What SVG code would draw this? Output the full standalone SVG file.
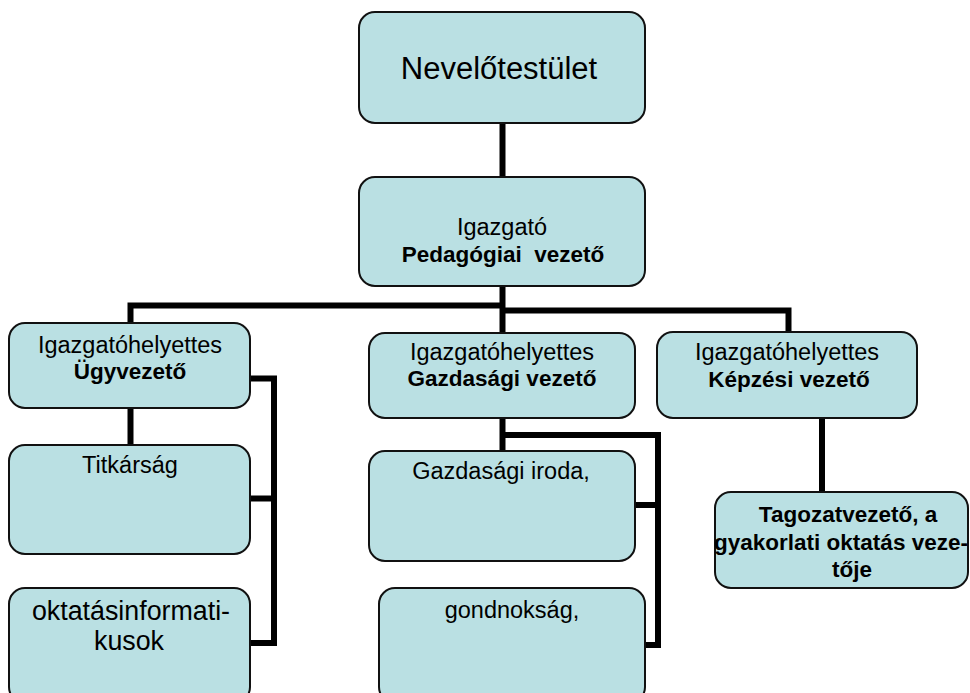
<svg xmlns="http://www.w3.org/2000/svg" width="970" height="693" viewBox="0 0 970 693">
<style>
.box{fill:#bae0e3;stroke:#111;stroke-width:2}
.t{font-family:"Liberation Sans",Arial,sans-serif;font-size:23.5px;fill:#000;text-anchor:middle}
.b{font-weight:bold;font-size:22.5px}
.con{fill:none;stroke:#000;stroke-width:6;stroke-linejoin:miter;stroke-linecap:butt}
</style>
<rect width="970" height="693" fill="#fff"/>
<g id="connectors">
<path class="con" d="M502.5,122 V178"/>
<path class="con" d="M502.5,285 V334"/>
<path class="con" d="M502.5,305.5 H130.5 V324"/>
<path class="con" d="M502.5,310.5 H788.5 V333"/>
<path class="con" d="M130.5,407 V446"/>
<path class="con" d="M249,378.5 H274 V643 H249"/>
<path class="con" d="M249,498.5 H274"/>
<path class="con" d="M502.5,417 V452"/>
<path class="con" d="M502.5,435 H658 V645 H644"/>
<path class="con" d="M634,505 H658"/>
<path class="con" d="M822,417 V493"/>
</g>
<g id="nevelotestulet">
<rect class="box" x="359" y="12" width="286" height="111" rx="16"/>
<text class="t" x="499" y="79" style="font-size:31px">Nevelőtestület</text>
</g>
<g id="igazgato">
<rect class="box" x="359" y="177" width="286" height="109" rx="16"/>
<text class="t" x="502" y="235">Igazgató</text>
<text class="t b" x="503" y="262" xml:space="preserve">Pedagógiai  vezető</text>
</g>
<g id="ugyvezeto">
<rect class="box" x="9" y="323" width="241" height="85" rx="16"/>
<text class="t" x="130" y="353">Igazgatóhelyettes</text>
<text class="t b" x="130" y="379">Ügyvezető</text>
</g>
<g id="titkarsag">
<rect class="box" x="9" y="445" width="241" height="109" rx="16"/>
<text class="t" x="130" y="473">Titkárság</text>
</g>
<g id="oktatasinformatikusok">
<rect class="box" x="9" y="588" width="241" height="115" rx="16"/>
<text class="t" x="131" y="620" style="font-size:26.8px">oktatásinformati-</text>
<text class="t" x="129" y="650" style="font-size:26.8px">kusok</text>
</g>
<g id="gazdasagi-vezeto">
<rect class="box" x="369" y="333" width="266" height="85" rx="16"/>
<text class="t" x="502" y="360">Igazgatóhelyettes</text>
<text class="t b" x="502" y="386">Gazdasági vezető</text>
</g>
<g id="gazdasagi-iroda">
<rect class="box" x="369" y="451" width="266" height="110" rx="16"/>
<text class="t" x="501" y="479">Gazdasági iroda,</text>
</g>
<g id="gondnoksag">
<rect class="box" x="379" y="588" width="266" height="115" rx="16"/>
<text class="t" x="512" y="618">gondnokság,</text>
</g>
<g id="kepzesi-vezeto">
<rect class="box" x="657" y="332" width="260" height="86" rx="16"/>
<text class="t" x="787" y="360">Igazgatóhelyettes</text>
<text class="t b" x="789" y="387">Képzési vezető</text>
</g>
<g id="tagozatvezeto">
<rect class="box" x="715" y="492" width="253" height="96" rx="16"/>
<text class="t b" x="848" y="522">Tagozatvezető, a</text>
<text class="t b" x="841" y="550">gyakorlati oktatás veze-</text>
<text class="t b" x="852" y="577">tője</text>
</g>
</svg>
